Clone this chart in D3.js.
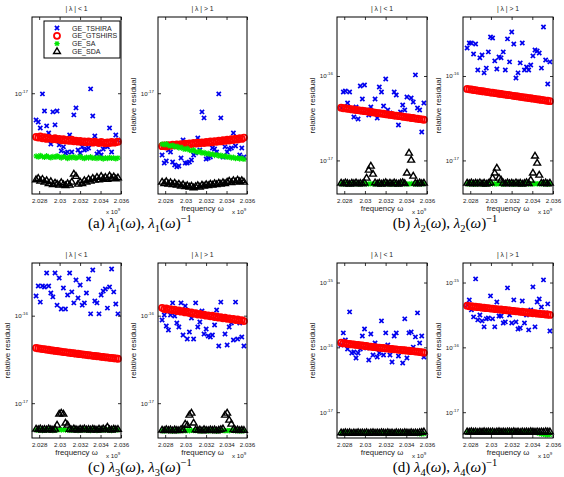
<!DOCTYPE html>
<html><head><meta charset="utf-8">
<script src="https://cdn.jsdelivr.net/npm/d3@7"></script>
<style>body{margin:0;background:#fff}svg{display:block}</style>
</head><body>
<svg id="chart" width="564" height="477"></svg>
<script>
// ---------------- DATA ----------------
const freq = [2.02770,2.02791,2.02811,2.02832,2.02852,2.02873,2.02893,2.02914,2.02934,2.02955,
  2.02975,2.02996,2.03016,2.03037,2.03057,2.03078,2.03098,2.03119,2.03139,2.03160,
  2.03180,2.03201,2.03221,2.03242,2.03262,2.03283,2.03303,2.03324,2.03344,2.03365,
  2.03385,2.03406,2.03426,2.03447,2.03467,2.03488,2.03508,2.03529,2.03549,2.03570]; // x 10^9
const UNIT = 1e-17; // all residual values below are in units of 1e-17
const seriesNames = ["GE_TSHIRA","GE_GTSHIRS","GE_SA","GE_SDA"];
const panelTitles = ["| \u03bb | < 1", "| \u03bb | > 1"];
const xTicks = [2.028, 2.030, 2.032, 2.034, 2.036];
const xTickLabels = ["2.028","2.03","2.032","2.034","2.036"];
const yDomainA = [4e-18, 2e-17], yTicksA = [1e-17];
const yDomainB = [4e-18, 5e-16], yTicksB = [1e-17, 1e-16];
const yDomainC = [4e-18, 4e-16], yTicksC = [1e-17, 1e-16];
const yDomainD = [4e-18, 2e-15], yTicksD = [1e-17, 1e-16, 1e-15];

// (a) lambda_1, |lambda|<1
const tshiraA1 = [0.784,0.770,0.729,0.994,0.851,0.743,0.697,0.630,0.844,0.750,0.851,0.625,0.592,0.614,0.581,0.586,0.684,0.586,0.821,0.875,0.597,0.581,0.614,0.597,0.602,0.608,1.04,0.813,0.678,0.576,0.586,0.570,0.602,0.619,0.614,0.729,0.586,0.642,0.684,0.654];
const gtshirsA1 = [0.672,0.668,0.676,0.664,0.670,0.660,0.666,0.662,0.658,0.664,0.656,0.660,0.652,0.658,0.650,0.654,0.648,0.655,0.646,0.650,0.644,0.648,0.642,0.646,0.640,0.645,0.642,0.638,0.644,0.640,0.636,0.642,0.638,0.634,0.640,0.636,0.642,0.638,0.640,0.644];
const saA1 = [0.565,0.560,0.568,0.562,0.558,0.566,0.560,0.556,0.563,0.558,0.566,0.560,0.555,0.562,0.558,0.552,0.560,0.556,0.562,0.554,0.558,0.563,0.556,0.552,0.559,0.555,0.561,0.553,0.557,0.552,0.558,0.554,0.550,0.556,0.552,0.558,0.553,0.556,0.551,0.555];
const sdaA1 = [0.456,0.462,0.450,0.458,0.446,0.452,0.440,0.448,0.436,0.442,0.438,0.434,0.444,0.436,0.432,0.440,0.434,0.446,0.480,0.470,0.438,0.446,0.440,0.452,0.446,0.458,0.450,0.462,0.454,0.466,0.456,0.470,0.460,0.466,0.458,0.472,0.462,0.468,0.460,0.464];
// (a) |lambda|>1
const tshiraA2 = [0.570,0.530,0.540,0.597,0.586,0.535,0.521,0.512,0.516,0.555,0.654,0.530,0.530,0.535,0.545,0.570,0.581,0.666,0.597,0.844,0.799,0.550,0.555,0.560,0.608,0.602,0.586,0.994,0.799,0.560,0.614,0.586,0.602,0.608,0.697,0.619,0.654,0.570,0.608,0.560];
const gtshirsA2 = [0.618,0.622,0.616,0.624,0.620,0.626,0.622,0.628,0.624,0.630,0.626,0.632,0.628,0.634,0.630,0.636,0.632,0.638,0.634,0.640,0.636,0.642,0.638,0.645,0.640,0.647,0.643,0.650,0.645,0.652,0.648,0.655,0.650,0.658,0.653,0.661,0.656,0.664,0.660,0.668];
const saA2 = [0.630,0.626,0.632,0.622,0.618,0.624,0.614,0.618,0.608,0.612,0.604,0.600,0.606,0.596,0.592,0.598,0.588,0.584,0.590,0.580,0.584,0.576,0.580,0.572,0.576,0.568,0.572,0.565,0.569,0.562,0.566,0.558,0.562,0.555,0.559,0.552,0.556,0.550,0.554,0.548];
const sdaA2 = [0.446,0.440,0.448,0.438,0.444,0.436,0.442,0.434,0.438,0.430,0.436,0.428,0.432,0.426,0.430,0.424,0.428,0.432,0.426,0.434,0.430,0.436,0.432,0.438,0.434,0.440,0.436,0.442,0.438,0.444,0.440,0.446,0.450,0.444,0.452,0.446,0.454,0.448,0.452,0.446];
// (b) lambda_2, |lambda|<1
const tshiraB1 = [4.18,6.46,6.64,4.79,6.46,3.96,3.27,4.29,3.09,7.62,5.34,7.82,3.96,3.45,4.29,3.65,5.34,3.18,7.41,6.46,4.41,9.22,3.96,3.65,3.45,6.46,5.96,2.63,3.75,4.53,3.96,5.64,3.27,5.49,4.92,10.3,4.18,3.96,2.17,4.79];
const gtshirsB1 = [4.21,4.15,4.15,4.09,4.08,4.02,4.01,3.96,3.94,3.89,3.88,3.83,3.81,3.77,3.75,3.70,3.69,3.64,3.63,3.58,3.57,3.52,3.51,3.46,3.45,3.40,3.39,3.35,3.34,3.29,3.28,3.24,3.23,3.18,3.18,3.13,3.12,3.08,3.07,3.03];
const saB1 = [0.530,0.525,0.534,0.528,0.522,0.532,0.526,0.534,0.524,0.530,0.526,0.532,0.528,0.524,0.532,0.526,0.530,0.524,0.530,0.522,0.528,0.534,0.525,0.530,0.522,0.532,0.526,0.522,0.530,0.536,0.525,0.528,0.524,0.532,0.526,0.530,0.525,0.532,0.526,0.530];
const sdaB1 = [0.540,0.530,0.545,0.535,0.526,0.540,0.532,0.545,0.528,0.538,0.530,0.542,0.619,0.770,0.859,0.690,0.545,0.530,0.540,0.526,0.536,0.548,0.530,0.540,0.528,0.544,0.534,0.526,0.540,0.548,0.532,0.710,1.224,1.01,0.654,0.540,0.530,0.544,0.534,0.540];
// (b) |lambda|>1
const tshiraB2 = [21.5,24.6,24.6,18.2,23.9,11.8,16.4,17.7,10.9,12.4,19.3,29.0,28.2,15.1,12.1,16.8,16.4,19.3,11.8,27.5,14.7,33.2,23.9,9.47,10.9,14.3,24.6,11.8,12.8,11.8,13.5,17.3,20.3,19.8,18.7,12.4,38.1,15.5,8.04,14.7];
const gtshirsB2 = [7.02,6.95,6.92,6.83,6.80,6.70,6.68,6.60,6.56,6.49,6.45,6.37,6.34,6.27,6.24,6.16,6.13,6.06,6.03,5.96,5.93,5.86,5.83,5.76,5.73,5.66,5.63,5.57,5.54,5.47,5.45,5.38,5.36,5.29,5.27,5.20,5.18,5.11,5.09,5.03];
const saB2 = [0.528,0.524,0.534,0.522,0.530,0.526,0.535,0.522,0.530,0.520,0.528,0.534,0.526,0.530,0.524,0.532,0.528,0.522,0.530,0.534,0.526,0.530,0.522,0.536,0.524,0.530,0.520,0.528,0.538,0.524,0.530,0.524,0.532,0.526,0.530,0.528,0.526,0.534,0.522,0.530];
const sdaB2 = [0.540,0.532,0.545,0.528,0.540,0.534,0.546,0.530,0.540,0.526,0.536,0.544,0.619,0.710,0.813,0.619,0.586,0.540,0.530,0.544,0.534,0.540,0.528,0.546,0.532,0.540,0.526,0.538,0.548,0.532,0.586,0.710,1.13,0.93,0.672,0.540,0.534,0.544,0.530,0.540];
// (c) lambda_3, |lambda|<1
const tshiraC1 = [16.8,21.8,14.3,21.8,21.3,30.7,21.8,18.2,16.4,30.7,13.2,27.0,11.9,20.7,11.9,17.2,30.7,18.7,14.0,25.6,15.9,22.4,13.2,14.0,18.2,26.3,10.5,33.3,14.7,14.0,10.5,17.2,19.1,20.2,12.2,21.3,34.2,18.7,13.6,10.5];
const gtshirsC1 = [4.28,4.22,4.21,4.15,4.14,4.09,4.08,4.02,4.01,3.96,3.95,3.90,3.89,3.84,3.83,3.79,3.78,3.73,3.72,3.68,3.67,3.63,3.62,3.58,3.57,3.53,3.52,3.48,3.47,3.44,3.43,3.39,3.38,3.34,3.33,3.30,3.29,3.26,3.25,3.22];
const saC1 = [0.496,0.490,0.500,0.488,0.494,0.490,0.498,0.492,0.488,0.496,0.492,0.498,0.494,0.500,0.492,0.496,0.494,0.490,0.498,0.492,0.488,0.496,0.492,0.500,0.490,0.494,0.488,0.498,0.492,0.486,0.496,0.490,0.498,0.492,0.496,0.490,0.488,0.498,0.492,0.496];
const sdaC1 = [0.507,0.500,0.512,0.496,0.505,0.498,0.510,0.500,0.495,0.506,0.563,0.752,0.772,0.752,0.594,0.563,0.505,0.498,0.510,0.500,0.495,0.507,0.500,0.512,0.498,0.504,0.496,0.508,0.500,0.494,0.506,0.498,0.510,0.502,0.534,0.500,0.496,0.508,0.500,0.505];
// (c) |lambda|>1
const tshiraC2 = [8.93,10.2,7.62,6.86,10.2,14.0,9.92,8.25,7.42,14.0,6.02,12.9,5.41,6.51,9.41,5.41,14.0,7.42,8.47,11.3,6.18,7.04,5.86,5.71,6.02,7.82,11.6,4.50,14.3,9.41,6.18,4.62,7.42,8.25,5.27,14.3,5.41,8.25,5.71,4.50];
const gtshirsC2 = [12.3,11.9,12.1,11.7,11.9,11.5,11.7,11.3,11.5,11.1,11.3,10.9,11.1,10.7,10.9,10.5,10.7,10.3,10.5,10.2,10.3,10.0,10.1,9.82,9.98,9.66,9.80,9.50,9.64,9.34,9.48,9.20,9.32,9.06,9.18,8.92,9.04,8.80,8.90,8.68];
const saC2 = [0.484,0.480,0.488,0.482,0.486,0.478,0.488,0.484,0.480,0.490,0.486,0.482,0.488,0.484,0.490,0.486,0.488,0.482,0.486,0.478,0.490,0.484,0.480,0.488,0.482,0.486,0.478,0.484,0.490,0.486,0.482,0.488,0.484,0.490,0.486,0.482,0.486,0.480,0.484,0.482];
const sdaC2 = [0.494,0.488,0.500,0.490,0.496,0.486,0.498,0.492,0.488,0.500,0.494,0.578,0.560,0.733,0.772,0.594,0.498,0.490,0.496,0.486,0.500,0.492,0.488,0.498,0.490,0.496,0.486,0.494,0.500,0.510,0.733,0.772,0.642,0.578,0.500,0.490,0.496,0.488,0.494,0.490];
// (d) lambda_4, |lambda|<1
const tshiraD1 = [10.9,16.7,13.0,9.45,35.2,8.20,8.50,6.87,8.20,9.45,15.0,19.2,9.79,6.39,16.1,7.64,11.7,7.11,8.20,25.6,7.64,16.7,10.9,7.64,5.96,15.0,16.7,7.37,9.12,5.75,27.5,6.87,16.7,17.3,10.1,14.5,34.0,11.7,15.0,7.11];
const gtshirsD1 = [11.8,11.5,11.6,11.3,11.3,11.1,11.1,10.9,10.9,10.7,10.7,10.5,10.5,10.3,10.3,10.1,10.1,9.94,9.94,9.78,9.78,9.62,9.62,9.47,9.47,9.32,9.32,9.17,9.17,9.02,9.02,8.88,8.88,8.74,8.74,8.60,8.60,8.46,8.40,8.28];
const saD1 = [0.478,0.474,0.482,0.476,0.480,0.472,0.478,0.476,0.482,0.474,0.478,0.476,0.480,0.472,0.476,0.482,0.476,0.478,0.474,0.480,0.478,0.474,0.482,0.476,0.478,0.472,0.480,0.476,0.478,0.474,0.482,0.476,0.474,0.480,0.476,0.478,0.470,0.466,0.462,0.465];
const sdaD1 = [0.483,0.478,0.488,0.480,0.486,0.476,0.484,0.480,0.488,0.478,0.484,0.480,0.486,0.476,0.482,0.488,0.480,0.484,0.478,0.486,0.482,0.478,0.488,0.480,0.484,0.476,0.486,0.480,0.484,0.478,0.488,0.482,0.478,0.486,0.480,0.484,0.478,0.488,0.492,0.500];
// (d) |lambda|>1
const tshiraD2 = [45.1,53.9,37.8,29.5,113.7,26.5,31.6,25.6,20.7,27.5,28.4,62.2,27.5,20.7,50.2,30.5,30.5,23.8,24.7,82.6,31.6,23.8,53.9,24.7,19.2,19.9,52.0,23.8,31.6,18.6,37.8,85.6,20.7,50.2,55.9,42.0,109.7,34.0,46.8,17.9];
const gtshirsD2 = [43.9,43.0,43.1,42.3,42.4,41.6,41.7,40.9,41.0,40.2,40.3,39.6,39.7,38.9,39.0,38.3,38.4,37.7,37.8,37.1,37.2,36.5,36.6,35.9,36.0,35.3,35.4,34.7,34.8,34.2,34.3,33.6,33.7,33.1,33.2,32.6,32.6,32.1,32.1,31.6];
const saD2 = [0.494,0.490,0.498,0.492,0.496,0.488,0.494,0.492,0.498,0.490,0.494,0.492,0.496,0.488,0.492,0.498,0.492,0.494,0.490,0.496,0.494,0.490,0.498,0.492,0.494,0.488,0.496,0.492,0.494,0.490,0.498,0.494,0.490,0.480,0.470,0.460,0.455,0.450,0.448,0.452];
const sdaD2 = [0.500,0.494,0.504,0.496,0.502,0.492,0.500,0.496,0.504,0.494,0.500,0.496,0.502,0.492,0.498,0.504,0.496,0.500,0.494,0.502,0.498,0.494,0.504,0.496,0.500,0.492,0.502,0.496,0.500,0.494,0.504,0.498,0.494,0.502,0.496,0.500,0.494,0.504,0.498,0.500];

// ---------------- LAYOUT ----------------
const colL = [32, 158, 337, 463], colR = [121, 247, 427, 553];
const rowT = [17, 263], rowB = [194, 438];
const xDomain = [2.0273, 2.0360];
const FONT = "'Liberation Sans', Arial, Helvetica, sans-serif";
const colors = ["#0000ee", "#ff0000", "#00e400", "#000000"];

const panels = [
  {col:0,row:0,dom:yDomainA,ticks:yTicksA,s:[tshiraA1,gtshirsA1,saA1,sdaA1],title:0,ylab:false,xlab:false,legend:true},
  {col:1,row:0,dom:yDomainA,ticks:yTicksA,s:[tshiraA2,gtshirsA2,saA2,sdaA2],title:1,ylab:true,xlab:true},
  {col:2,row:0,dom:yDomainB,ticks:yTicksB,s:[tshiraB1,gtshirsB1,saB1,sdaB1],title:0,ylab:true,xlab:true},
  {col:3,row:0,dom:yDomainB,ticks:yTicksB,s:[tshiraB2,gtshirsB2,saB2,sdaB2],title:1,ylab:true,xlab:true},
  {col:0,row:1,dom:yDomainC,ticks:yTicksC,s:[tshiraC1,gtshirsC1,saC1,sdaC1],title:0,ylab:true,xlab:true},
  {col:1,row:1,dom:yDomainC,ticks:yTicksC,s:[tshiraC2,gtshirsC2,saC2,sdaC2],title:1,ylab:true,xlab:true},
  {col:2,row:1,dom:yDomainD,ticks:yTicksD,s:[tshiraD1,gtshirsD1,saD1,sdaD1],title:0,ylab:true,xlab:true},
  {col:3,row:1,dom:yDomainD,ticks:yTicksD,s:[tshiraD2,gtshirsD2,saD2,sdaD2],title:1,ylab:true,xlab:true}
];

const svg = d3.select("#chart");
svg.append("rect").attr("width",564).attr("height",477).attr("fill","#fff");

// marker shapes
const markerPath = [
  "M-2.1,-2.1L2.1,2.1M-2.1,2.1L2.1,-2.1",
  null,
  "M-2.7,0L2.7,0M0,-2.7L0,2.7M-2,-2L2,2M-2,2L2,-2",
  "M0,-3.6L3.4,2.1L-3.4,2.1Z"
];
function drawMarker(g, k, x, y) {
  if (k === 1) {
    g.append("circle").attr("cx",x).attr("cy",y).attr("r",3)
      .attr("fill","none").attr("stroke",colors[1]).attr("stroke-width",1.8);
  } else {
    g.append("path").attr("d",markerPath[k]).attr("transform",`translate(${x},${y})`)
      .attr("fill","none")
      .attr("stroke",colors[k]).attr("stroke-width", k===0 ? 1.7 : (k===3 ? 1.4 : 1.1));
  }
}

panels.forEach(p => {
  const L = colL[p.col], R = colR[p.col], T = rowT[p.row], B = rowB[p.row];
  const x = d3.scaleLinear().domain(xDomain).range([L, R]);
  const y = d3.scaleLog().domain(p.dom).range([B, T]);
  const g = svg.append("g");

  // data: draw order as in MATLAB (blue, red, green, black)
  p.s.forEach((arr, k) => {
    const gs = g.append("g");
    arr.forEach((v, i) => drawMarker(gs, k, x(freq[i]), y(v * UNIT)));
  });

  // box
  g.append("rect").attr("x",L).attr("y",T).attr("width",R-L).attr("height",B-T)
    .attr("fill","none").attr("stroke","#000").attr("stroke-width",1);

  // axes (inward ticks)
  const ax = g.append("g").attr("transform",`translate(0,${B})`)
    .call(d3.axisBottom(x).tickValues(xTicks).tickSize(-3).tickPadding(5)
      .tickFormat((d,i) => xTickLabels[i]));
  const axT = g.append("g").attr("transform",`translate(0,${T})`)
    .call(d3.axisTop(x).tickValues(xTicks).tickSize(-3).tickFormat(""));
  const ay = g.append("g").attr("transform",`translate(${L},0)`)
    .call(d3.axisLeft(y).tickValues(p.ticks).tickSize(-3).tickPadding(4).tickFormat(() => ""));
  const ayR = g.append("g").attr("transform",`translate(${R},0)`)
    .call(d3.axisRight(y).tickValues(p.ticks).tickSize(-3).tickFormat(""));
  [ax, axT, ay, ayR].forEach(a => {
    a.select(".domain").remove();
    a.selectAll("line").attr("stroke","#000").attr("stroke-width",0.8);
  });
  ax.selectAll("text").attr("font-family",FONT).attr("font-size",6.2).attr("fill","#222");
  ay.selectAll("text").each(function(d) {
    const t = d3.select(this).attr("font-family",FONT).attr("font-size",6.2).attr("fill","#222");
    t.append("tspan").text("10");
    t.append("tspan").attr("dy",-3).attr("font-size",4.4).text(String(Math.round(Math.log10(d))));
  });

  // title
  svg.append("text").attr("x",(L+R)/2).attr("y",T-6).attr("text-anchor","middle")
    .attr("font-family",FONT).attr("font-size",6.8).attr("fill","#222").text(panelTitles[p.title]);

  // x label
  if (p.xlab) {
    svg.append("text").attr("x",(L+R)/2).attr("y",B+17).attr("text-anchor","middle")
      .attr("font-family",FONT).attr("font-size",7.8).attr("fill","#222").text("frequency \u03c9");
  }
  const xm = svg.append("text").attr("x",R-15).attr("y",B+20)
    .attr("font-family",FONT).attr("font-size",6.2).attr("fill","#222");
  xm.append("tspan").text("x 10");
  xm.append("tspan").attr("dy",-3).attr("font-size",4.4).text("9");

  // y label
  if (p.ylab) {
    svg.append("text").attr("transform",`translate(${L-22},${(T+B)/2}) rotate(-90)`)
      .attr("text-anchor","middle").attr("font-family",FONT).attr("font-size",8)
      .attr("fill","#222").text("relative residual");
  }

  // legend
  if (p.legend) {
    const lg = svg.append("g");
    lg.append("rect").attr("x",44).attr("y",21).attr("width",76).attr("height",37)
      .attr("fill","#fff").attr("stroke","#000").attr("stroke-width",1);
    seriesNames.forEach((n, k) => {
      const yy = 28 + k * 7.8;
      drawMarker(lg, k, 57, yy);
      lg.append("text").attr("x",72).attr("y",yy+2.5).attr("font-family",FONT)
        .attr("font-size",7).attr("fill","#222").text(n);
    });
  }
});

// captions
const captions = [
  {lab:"(a)", n:"1", cx:140, row:0},
  {lab:"(b)", n:"2", cx:445, row:0},
  {lab:"(c)", n:"3", cx:140, row:1},
  {lab:"(d)", n:"4", cx:445, row:1}
];
const capY = [228, 472];
captions.forEach(c => {
  const t = svg.append("text").attr("x",c.cx).attr("y",capY[c.row]).attr("text-anchor","middle")
    .attr("font-family","'Liberation Serif','DejaVu Serif',serif").attr("font-size",15).attr("fill","#000");
  const seg = (s, o={}) => {
    const ts = t.append("tspan").text(s);
    if (o.it) ts.attr("font-style","italic");
    if (o.dy) ts.attr("dy",o.dy);
    if (o.fs) ts.attr("font-size",o.fs);
    return ts;
  };
  seg(c.lab + " ");
  seg("\u03bb",{it:1}); seg(c.n,{dy:3.5,fs:10.5}); seg("(",{dy:-3.5}); seg("\u03c9",{it:1}); seg("), ");
  seg("\u03bb",{it:1}); seg(c.n,{dy:3.5,fs:10.5}); seg("(",{dy:-3.5}); seg("\u03c9",{it:1}); seg(")");
  seg("\u22121",{dy:-6,fs:10.5});
});
</script>
</body></html>
